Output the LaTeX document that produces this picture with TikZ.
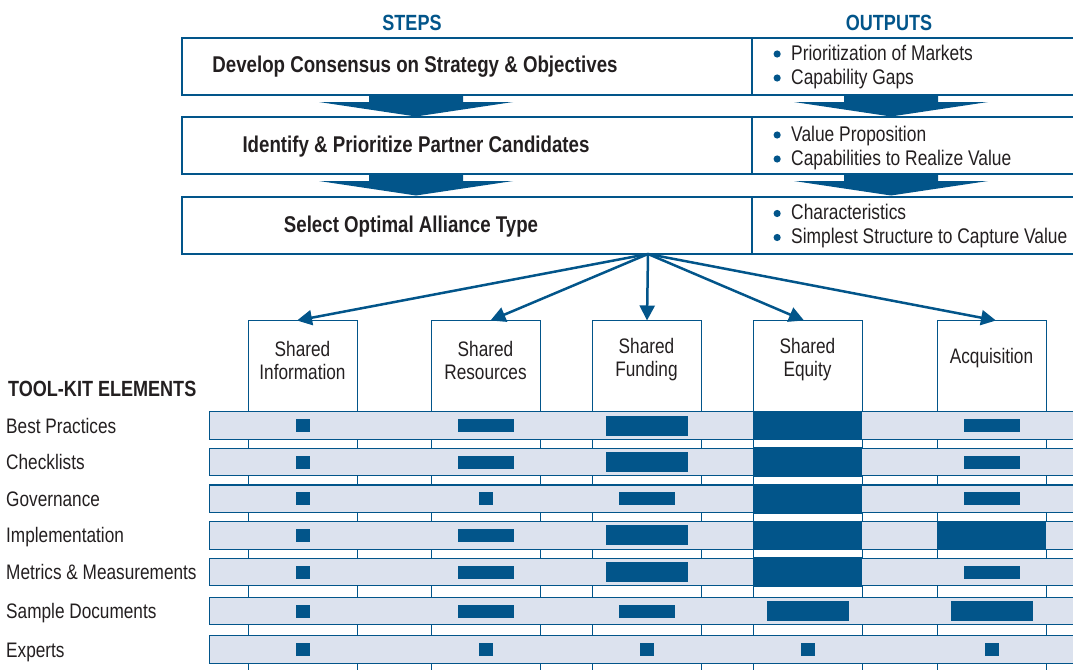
\documentclass[tikz,border=0pt]{standalone}
\usepackage{fontspec}
\setmainfont{Liberation Sans}[FakeStretch=0.82]
\usetikzlibrary{arrows.meta}
\usetikzlibrary{calc}
\definecolor{tkblue}{RGB}{2,85,138}
\definecolor{tkrow}{RGB}{220,226,238}
\definecolor{tktext}{RGB}{35,31,32}
\newcommand{\outitem}[1]{\tikz[baseline=0pt]\fill[tkblue] (0pt,6.5pt) circle[radius=3.6pt];\hspace{10.5pt}#1}
\newcommand{\blockarrow}[2]{%
	\fill[tkblue] (#1-47,#2) -- (#1+47,#2) -- (#1+47,#2+7) -- (#1+97,#2+7)
		-- (#1,#2+21.5) -- (#1-97,#2+7) -- (#1-47,#2+7) -- cycle;}
\newcommand{\cellmark}[3]{%
	\ifcase#3\or
	\fill[tkblue] (#1-7,#2-6.5) rectangle (#1+7,#2+6.5);\or
	\fill[tkblue] (#1-28,#2-6.5) rectangle (#1+28,#2+6.5);\or
	\fill[tkblue] (#1-41,#2-10) rectangle (#1+41,#2+10);\or
	\fill[tkblue] (#1-54.5,#2-14.8) rectangle (#1+54.5,#2+14.8);\fi}

\begin{document}
\begin{tikzpicture}[x=1pt,y=-1pt,
	stepbox/.style={draw=tkblue, line width=1.2pt, minimum height=57pt, inner sep=0pt},
	steptext/.style={text=tktext, font=\bfseries\fontsize{22.8}{26}\selectfont},
	outtext/.style={text=tktext, anchor=west, align=left, font=\fontsize{21.2}{24}\selectfont},
	heading/.style={text=tkblue, font=\bfseries\fontsize{22}{26}\selectfont},
	typebox/.style={draw=tkblue, line width=1pt, minimum width=109pt, minimum height=360pt, inner sep=0pt, anchor=north},
	typetext/.style={text=tktext, align=center, font=\fontsize{21}{23}\selectfont},
	rowbar/.style={draw=tkblue, line width=1.2pt, fill=tkrow, minimum width=880pt, minimum height=27.5pt, inner sep=0pt, anchor=west},
	rowtext/.style={text=tktext, anchor=base west, inner sep=0pt, font=\fontsize{21}{24}\selectfont},
	fanarrow/.style={draw=tkblue, line width=2.5pt, -{Triangle[length=15pt,width=15pt]}}]
	\useasboundingbox (0,0) rectangle (1073,669);
	\clip (0,0) rectangle (1073,669);

	\node[heading] (steps) at (412,23) {STEPS};
	\node[heading] (outputs) at (889,23) {OUTPUTS};

	\node[stepbox, minimum width=570pt] (s1) at (467,66.5) {};
	\node[stepbox, minimum width=323pt] (o1) at (913.5,66.5) {};
	\node[stepbox, minimum width=570pt] (s2) at (467,145.5) {};
	\node[stepbox, minimum width=323pt] (o2) at (913.5,145.5) {};
	\node[stepbox, minimum width=570pt] (s3) at (467,225.5) {};
	\node[stepbox, minimum width=323pt] (o3) at (913.5,225.5) {};
	\node[steptext] (s1txt) at (415,67) {Develop Consensus on Strategy \& Objectives};
	\node[steptext] (s2txt) at (416,147) {Identify \& Prioritize Partner Candidates};
	\node[steptext] (s3txt) at (411,227) {Select Optimal Alliance Type};
	\node[outtext] (o1txt) at (770,67) {\outitem{Prioritization of Markets}\\\outitem{Capability Gaps}};
	\node[outtext] (o2txt) at (770,148) {\outitem{Value Proposition}\\\outitem{Capabilities to Realize Value}};
	\node[outtext] (o3txt) at (770,226.5) {\outitem{Characteristics}\\\outitem{Simplest Structure to Capture Value}};
	\blockarrow{416}{95}
	\blockarrow{416}{174}
	\blockarrow{891}{95}
	\blockarrow{891}{174}

	\node[typebox] (info) at (302.5,320) {};
	\node[typebox] (res) at (485.5,320) {};
	\node[typebox] (fund) at (646.5,320) {};
	\node[typebox] (equity) at (807.5,320) {};
	\node[typebox] (acq) at (991.5,320) {};
	\node[typetext] (infotxt) at ($(info.north)+(0,40)$) {Shared\\Information};
	\node[typetext] (restxt) at ($(res.north)+(0,40)$) {Shared\\Resources};
	\node[typetext] (fundtxt) at ($(fund.north)+(0,40)$) {Shared\\Funding};
	\node[typetext] (equitytxt) at ($(equity.north)+(0,40)$) {Shared\\Equity};
	\node[typetext] (acqtxt) at ($(acq.north)+(0,38)$) {Acquisition};

	\coordinate (fan) at (648,254);
	\draw[fanarrow] (fan) -- ($(info.north)+(-5.5,0.5)$);
	\draw[fanarrow] (fan) -- ($(res.north)+(5,0.5)$);
	\draw[fanarrow] (fan) -- ($(fund.north)+(0.5,0.5)$);
	\draw[fanarrow] (fan) -- ($(equity.north)+(-3.5,0.5)$);
	\draw[fanarrow] (fan) -- ($(acq.north)+(4.5,0.5)$);

	\node[rowtext, font=\bfseries\fontsize{22}{26}\selectfont] (kit) at (8,396) {TOOL-KIT ELEMENTS};
	\foreach \y/\rowname/\a/\b/\c/\d/\e [count=\i] in {
		425.5/Best Practices/1/2/3/4/2,
		462/Checklists/1/2/3/4/2,
		498.8/Governance/1/1/2/4/2,
		535.4/Implementation/1/2/3/4/4,
		572.1/Metrics \& Measurements/1/2/3/4/2,
		611.1/Sample Documents/1/2/2/3/3,
		649.5/Experts/1/1/1/1/1}
	{
	\node[rowbar] (row\i) at (208.5,\y) {};
	\node[rowtext] (lab\i) at (6,\y+7.5) {\rowname};
	\cellmark{302.5}{\y}{\a}
	\cellmark{485.5}{\y}{\b}
	\cellmark{646.5}{\y}{\c}
	\cellmark{807.5}{\y}{\d}
	\cellmark{991.5}{\y}{\e}
	}
\end{tikzpicture}
\end{document}
